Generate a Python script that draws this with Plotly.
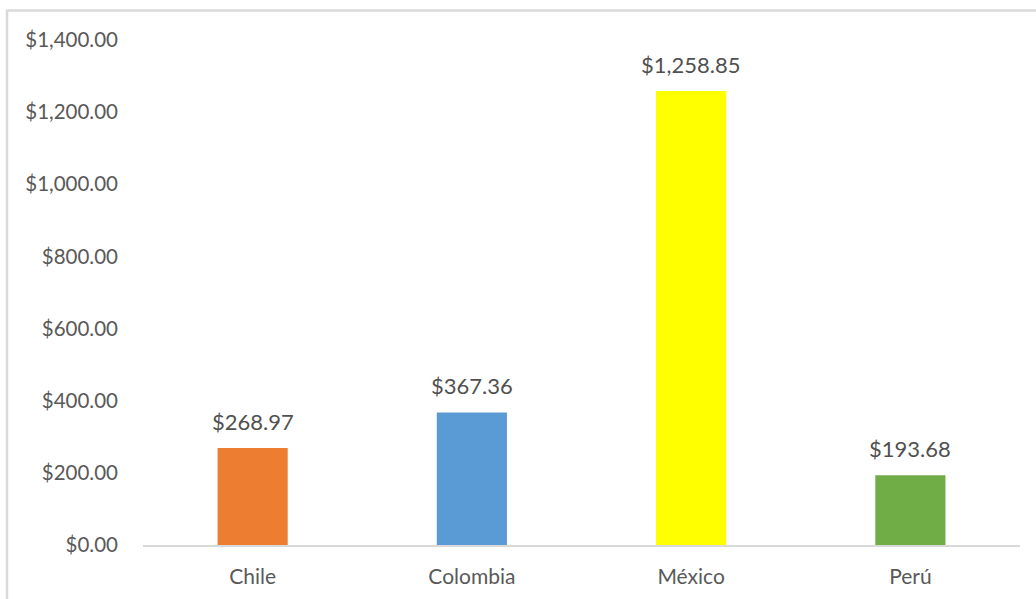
import plotly.graph_objects as go

# Data
paises = ["Chile", "Colombia", "México", "Perú"]
valores = [268.97, 367.36, 1258.85, 193.68]
colores = ["#ED7D31", "#5B9BD5", "#FFFF00", "#70AD47"]
y_ticks = [0, 200, 400, 600, 800, 1000, 1200, 1400]

W, H = 1036, 599
ML, MR, MT, MB = 143, 16, 40, 54
FONT = "Lato"
GRIS = "#595959"

fig = go.Figure(
    go.Bar(
        x=paises,
        y=valores,
        marker=dict(color=colores, line=dict(width=0)),
        width=0.32,
        hoverinfo="skip",
    )
)

# value labels above each bar
for pais, valor in zip(paises, valores):
    fig.add_annotation(
        x=pais, y=valor, xref="x", yref="y",
        text=f"${valor:,.2f}",
        showarrow=False,
        yanchor="bottom",
        yshift=11,
        font=dict(family=FONT, size=22, color="#505050"),
    )

# chart frame (left and top edges of the chart box)
pw, ph = W - ML - MR, H - MT - MB
def px_x(p):
    return (p - ML) / pw
def px_y(p):
    return 1 - (p - MT) / ph

fig.add_shape(type="line", xref="paper", yref="paper",
              x0=px_x(7), x1=px_x(7), y0=px_y(10), y1=px_y(H + 5),
              line=dict(color="#D9D9D9", width=2.5))
fig.add_shape(type="line", xref="paper", yref="paper",
              x0=px_x(6), x1=px_x(W + 5), y0=px_y(10.5), y1=px_y(10.5),
              line=dict(color="#D9D9D9", width=2.5))

fig.update_layout(
    width=W,
    height=H,
    margin=dict(l=ML, r=MR, t=MT, b=MB, pad=0),
    paper_bgcolor="white",
    plot_bgcolor="white",
    showlegend=False,
    font=dict(family=FONT, color=GRIS),
    xaxis=dict(
        showgrid=False,
        showline=True,
        linecolor="#D9D9D9",
        linewidth=2,
        ticks="",
        tickfont=dict(family=FONT, size=21, color=GRIS),
        ticklabelstandoff=12,
    ),
    yaxis=dict(
        range=[0, 1400],
        tickvals=y_ticks,
        tickformat="$,.2f",
        showgrid=False,
        zeroline=False,
        showline=False,
        ticks="",
        tickfont=dict(family=FONT, size=20.5, color=GRIS),
        ticklabelstandoff=24,
    ),
)

fig.write_html("out.html")
